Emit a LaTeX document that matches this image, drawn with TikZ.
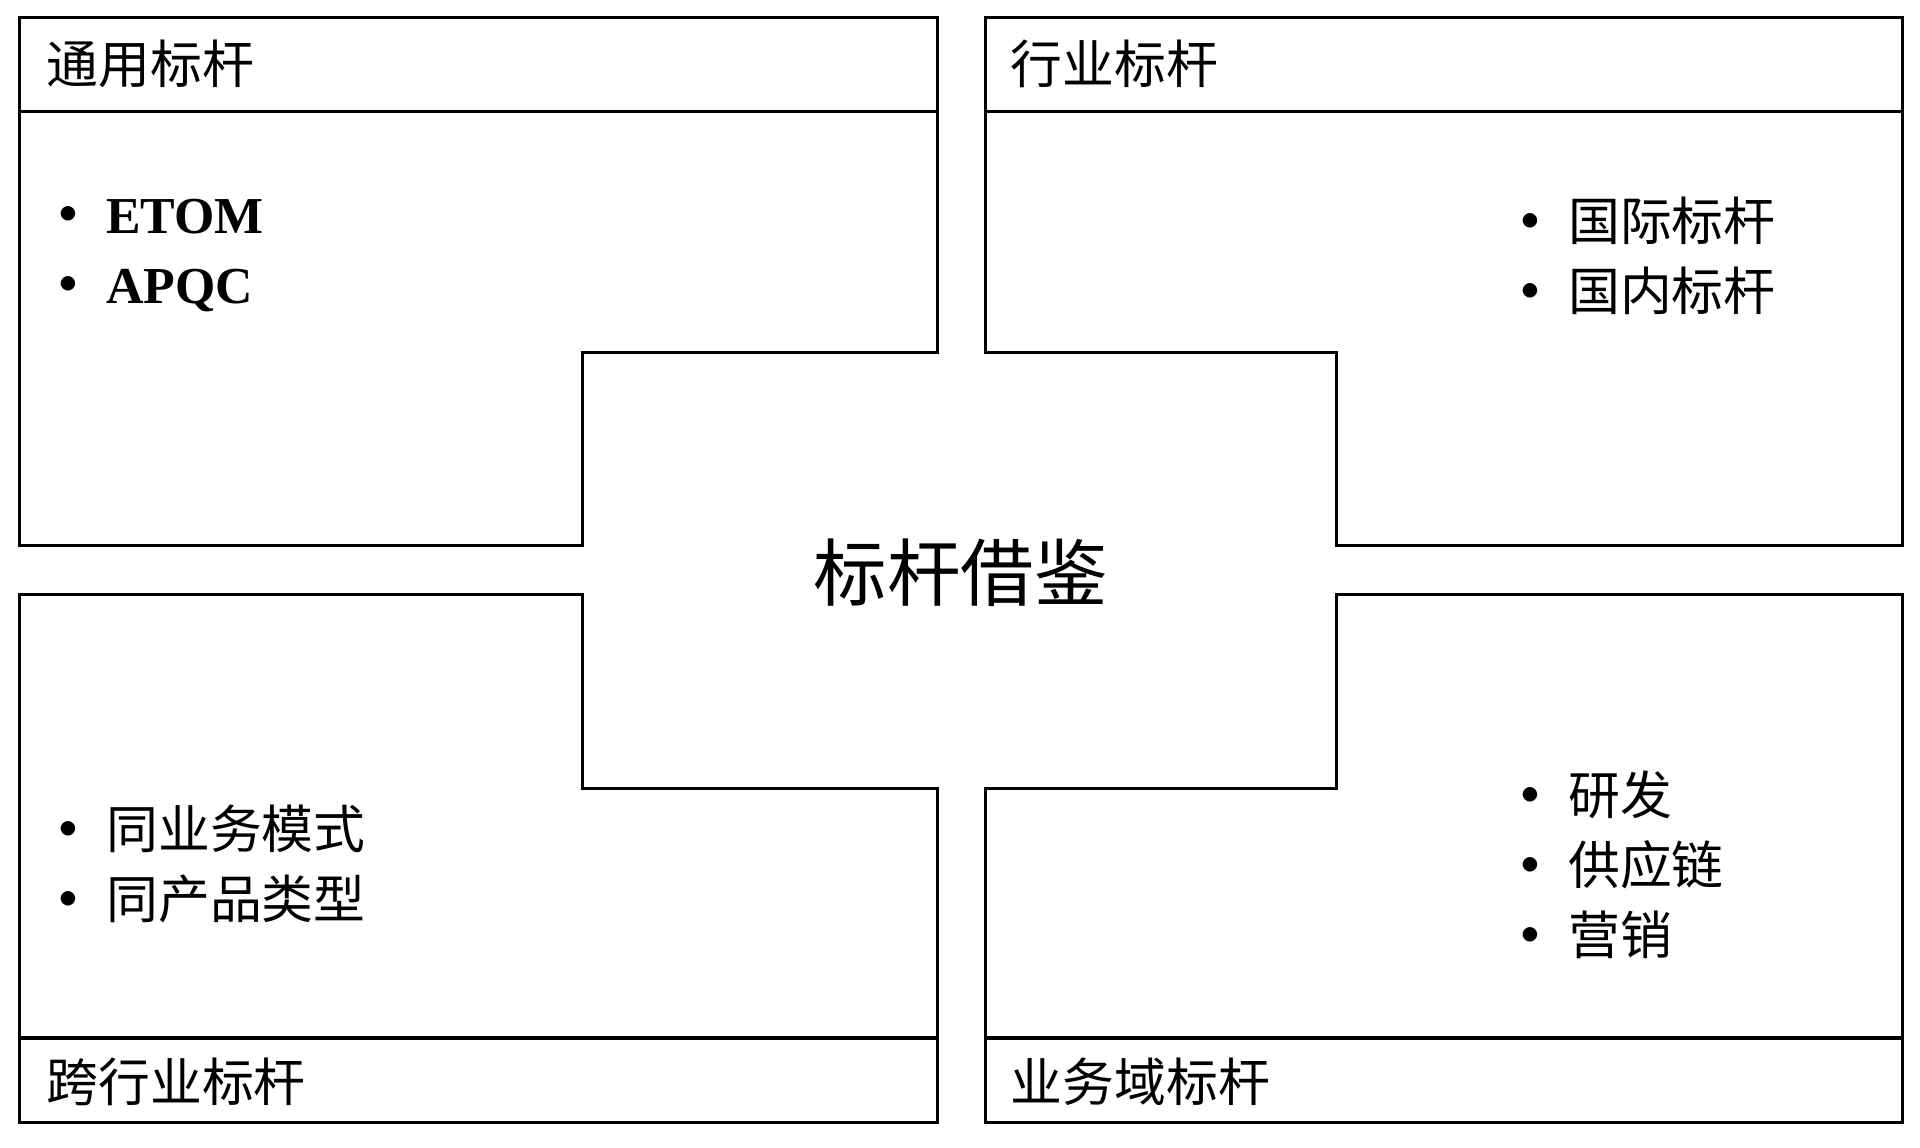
\documentclass[tikz,border=0pt]{standalone}
\usepackage{fontspec}
\setmainfont{Liberation Serif}
\newfontfamily\cjk{Noto Sans CJK SC}
\usetikzlibrary{positioning}

\begin{document}
\begin{tikzpicture}[%
        x = 0.01cm,
        y = -0.01cm,
        line width = 0.25mm,
        head/.style = {anchor = west, font = \cjk\fontsize{12}{14}\selectfont},
        item/.style = {anchor = west, align = left, font = \cjk\fontsize{12}{16.2}\selectfont},
        centre/.style = {font = \cjk\fontsize{17}{20}\selectfont}
    ]

        \useasboundingbox (0, 0) rectangle (1563, 934);

        % Four quarter boxes around the centre.
        \draw (16, 14) -- (763, 14) -- (763, 287) -- (474, 287) -- (474, 444) -- (16, 444) -- cycle;
        \draw (802, 14) -- (1549, 14) -- (1549, 444) -- (1088, 444) -- (1088, 287) -- (802, 287) -- cycle;
        \draw (16, 484) -- (474, 484) -- (474, 642) -- (763, 642) -- (763, 914) -- (16, 914) -- cycle;
        \draw (1088, 484) -- (1549, 484) -- (1549, 914) -- (802, 914) -- (802, 642) -- (1088, 642) -- cycle;

        % Header and footer bars.
        \draw (16, 91) -- (763, 91);
        \draw (802, 91) -- (1549, 91);
        \draw (16, 845) -- (763, 845);
        \draw (802, 845) -- (1549, 845);

        % Titles.
        \node[head] (general) at (25, 52) {通用标杆};
        \node[head] (industry) at (810, 52) {行业标杆};
        \node[head] (cross) at (25, 881) {跨行业标杆};
        \node[head] (domain) at (810, 881) {业务域标杆};

        % Centre.
        \node[centre] (bench) at (782, 466) {标杆借鉴};

        % Lists.
        \node[item] (genlist) at (22, 208) {\textbf{•} {\rmfamily\bfseries ETOM}\\\textbf{•} {\rmfamily\bfseries APQC}};
        \node[item] (indlist) at (1212, 208) {\textbf{•} 国际标杆\\\textbf{•} 国内标杆};
        \node[item] (crosslist) at (22, 703) {\textbf{•} 同业务模式\\\textbf{•} 同产品类型};
        \node[item] (domlist) at (1212, 704) {\textbf{•} 研发\\\textbf{•} 供应链\\\textbf{•} 营销};
    \end{tikzpicture}
\end{document}
